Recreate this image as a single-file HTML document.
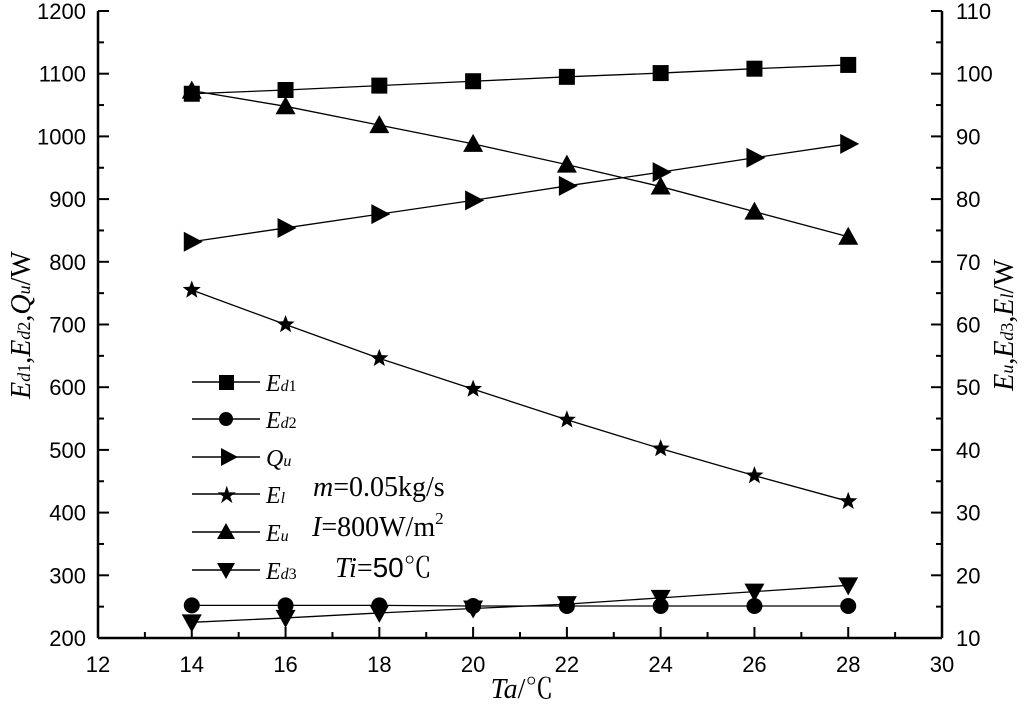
<!DOCTYPE html>
<html><head><meta charset="utf-8"><style>
body{margin:0;background:#fff;}
svg{display:block;font-family:"Liberation Sans",sans-serif;}
.ser{font-family:"Liberation Serif","Noto Serif CJK SC",serif;}
</style></head><body>
<svg id="c" width="1024" height="710" xmlns="http://www.w3.org/2000/svg"></svg>
<script>
const xCats=[14,16,18,20,22,24,26,28];
const ed1=[1068,1074,1081,1088,1095,1101,1108,1114];
const ed2=[252,252,252,251,251,251,251,251];
const qu=[832,854,876,898,921,943,966,988];
const el=[65.5,60,54.6,49.7,44.8,40.2,35.9,31.8];
const eu=[97.3,94.8,91.8,88.8,85.5,82,78,74];
const ed3=[12.5,13.2,14,14.7,15.4,16.4,17.4,18.4];
const xTicks=[12,14,16,18,20,22,24,26,28,30];
const yLTicks=[200,300,400,500,600,700,800,900,1000,1100,1200];
const yRTicks=[10,20,30,40,50,60,70,80,90,100,110];

const L=98,R=942,T=11,B=638;
const X=v=>L+(v-12)/18*(R-L);
const YL=v=>B-(v-200)/1000*(B-T);
const YR=v=>B-(v-10)/100*(B-T);
const svg=document.getElementById('c');
const NS='http://www.w3.org/2000/svg';
function mk(tag,attrs,parent){const e=document.createElementNS(NS,tag);for(const k in attrs)e.setAttribute(k,attrs[k]);(parent||svg).appendChild(e);return e;}

const axes=mk('g',{});


mk('line',{x1:L,y1:B,x2:R,y2:B,stroke:'#000','stroke-width':2.5},axes);
mk('line',{x1:L,y1:T,x2:L,y2:B,stroke:'#000','stroke-width':2.5},axes);
mk('line',{x1:R,y1:T,x2:R,y2:B,stroke:'#000','stroke-width':2.5},axes);
for(let i=0;i<xTicks.length;i++){
  const x=X(xTicks[i]);
  mk('line',{x1:x,y1:B,x2:x,y2:B-11,stroke:'#000','stroke-width':2},axes);
  if(i<xTicks.length-1){const xm=X(xTicks[i]+1);mk('line',{x1:xm,y1:B,x2:xm,y2:B-6,stroke:'#000','stroke-width':2},axes);}
  const t=mk('text',{x:x,y:B+34,'font-size':22,'text-anchor':'middle'},axes);t.textContent=xTicks[i];
  
  
}
for(let i=0;i<yLTicks.length;i++){
  const y=YL(yLTicks[i]);
  mk('line',{x1:L,y1:y,x2:L+11,y2:y,stroke:'#000','stroke-width':2},axes);
  if(i<yLTicks.length-1){const ym=YL(yLTicks[i]+50);mk('line',{x1:L,y1:ym,x2:L+6,y2:ym,stroke:'#000','stroke-width':2},axes);}
  const t=mk('text',{x:L-12,y:y+8,'font-size':22,'text-anchor':'end'},axes);t.textContent=yLTicks[i];
  
  
}
for(let i=0;i<yRTicks.length;i++){
  const y=YR(yRTicks[i]);
  mk('line',{x1:R,y1:y,x2:R-11,y2:y,stroke:'#000','stroke-width':2},axes);
  if(i<yRTicks.length-1){const ym=YR(yRTicks[i]+5);mk('line',{x1:R,y1:ym,x2:R-6,y2:ym,stroke:'#000','stroke-width':2},axes);}
  const t=mk('text',{x:R+14,y:y+8,'font-size':22,'text-anchor':'start'},axes);t.textContent=yRTicks[i];
  
  
}

function marker(type,x,y,g){
  const s=9;
  if(type==='sq')return mk('rect',{x:x-s+1,y:y-s+1,width:2*s-2,height:2*s-2,fill:'#000'},g);
  if(type==='ci')return mk('circle',{cx:x,cy:y,r:8,fill:'#000'},g);
  if(type==='ri')return mk('polygon',{points:`${x-8},${y-10} ${x+11},${y} ${x-8},${y+10}`,fill:'#000'},g);
  if(type==='up')return mk('polygon',{points:`${x-10},${y+8} ${x+10},${y+8} ${x},${y-10}`,fill:'#000'},g);
  if(type==='dn')return mk('polygon',{points:`${x-10},${y-8} ${x+10},${y-8} ${x},${y+10}`,fill:'#000'},g);
  if(type==='st'){let p=[];for(let k=0;k<10;k++){const r=k%2?4:9.5,a=-Math.PI/2+k*Math.PI/5;p.push((x+r*Math.cos(a)).toFixed(1)+','+(y+r*Math.sin(a)).toFixed(1));}return mk('polygon',{points:p.join(' '),fill:'#000'},g);}
}
const series=[
 {name:'series-ed1',d:ed1,ax:YL,m:'sq'},
 {name:'series-ed2',d:ed2,ax:YL,m:'ci'},
 {name:'series-qu',d:qu,ax:YL,m:'ri'},
 {name:'series-el',d:el,ax:YR,m:'st'},
 {name:'series-eu',d:eu,ax:YR,m:'up'},
 {name:'series-ed3',d:ed3,ax:YR,m:'dn'}];
for(const s of series){
  const g=mk('g',{});
  
  
  mk('polyline',{points:xCats.map((c,i)=>X(c)+','+s.ax(s.d[i])).join(' '),fill:'none',stroke:'#000','stroke-width':1.3},g);
  xCats.forEach((c,i)=>{const m=marker(s.m,X(c),s.ax(s.d[i]),g);
    
    });
}
</script>
<svg style="position:absolute;left:0;top:0" width="1024" height="710" xmlns="http://www.w3.org/2000/svg">
 <g class="ser" font-style="italic" font-size="24">
  <g><line x1="192" y1="382" x2="260" y2="382" stroke="#000" stroke-width="1.5"/><rect x="219" y="375" width="15" height="15"/><text x="266" y="391">E<tspan font-size="16">d</tspan><tspan font-size="16" font-style="normal">1</tspan></text></g>
  <g><line x1="192" y1="419" x2="260" y2="419" stroke="#000" stroke-width="1.5"/><circle cx="226" cy="419" r="7"/><text x="266" y="428">E<tspan font-size="16">d</tspan><tspan font-size="16" font-style="normal">2</tspan></text></g>
  <g><line x1="192" y1="457" x2="260" y2="457" stroke="#000" stroke-width="1.5"/><polygon points="221,448 238,457 221,466"/><text x="266" y="466">Q<tspan font-size="16">u</tspan></text></g>
  <g><line x1="192" y1="494" x2="260" y2="494" stroke="#000" stroke-width="1.5"/><text x="216" y="503" font-style="normal" font-size="24" font-family="DejaVu Sans">★</text><text x="266" y="503">E<tspan font-size="16">l</tspan></text></g>
  <g><line x1="192" y1="532" x2="260" y2="532" stroke="#000" stroke-width="1.5"/><polygon points="217,539 235,539 226,523"/><text x="266" y="541">E<tspan font-size="16">u</tspan></text></g>
  <g><line x1="192" y1="570" x2="260" y2="570" stroke="#000" stroke-width="1.5"/><polygon points="217,563 235,563 226,579"/><text x="266" y="579">E<tspan font-size="16">d</tspan><tspan font-size="16" font-style="normal">3</tspan></text></g>
 </g>
 <g class="ser" font-size="28">
  <text x="313" y="496"><tspan font-style="italic">m</tspan>=0.05kg/s</text>
  <text x="312" y="536"><tspan font-style="italic">I</tspan>=800W/m<tspan font-size="17" dy="-12">2</tspan></text>
  <text x="335" y="577"><tspan font-style="italic">Ti</tspan>=<tspan font-family="Liberation Sans">50</tspan>℃</text>
 </g>
 <text class="ser" x="522" y="698" font-size="28" text-anchor="middle"><tspan font-style="italic">Ta</tspan>/℃</text>
 <text class="ser" font-size="28" text-anchor="middle" transform="translate(30,325) rotate(-90)"><tspan font-style="italic">E</tspan><tspan font-size="18" font-style="italic">d</tspan><tspan font-size="18">1</tspan>,<tspan font-style="italic">E</tspan><tspan font-size="18" font-style="italic">d</tspan><tspan font-size="18">2</tspan>,<tspan font-style="italic">Q</tspan><tspan font-size="18" font-style="italic">u</tspan>/W</text>
 <text class="ser" font-size="28" text-anchor="middle" transform="translate(1013,325) rotate(-90)"><tspan font-style="italic">E</tspan><tspan font-size="18" font-style="italic">u</tspan>,<tspan font-style="italic">E</tspan><tspan font-size="18" font-style="italic">d</tspan><tspan font-size="18">3</tspan>,<tspan font-style="italic">E</tspan><tspan font-size="18" font-style="italic">l</tspan>/W</text>
</svg>
</body></html>
